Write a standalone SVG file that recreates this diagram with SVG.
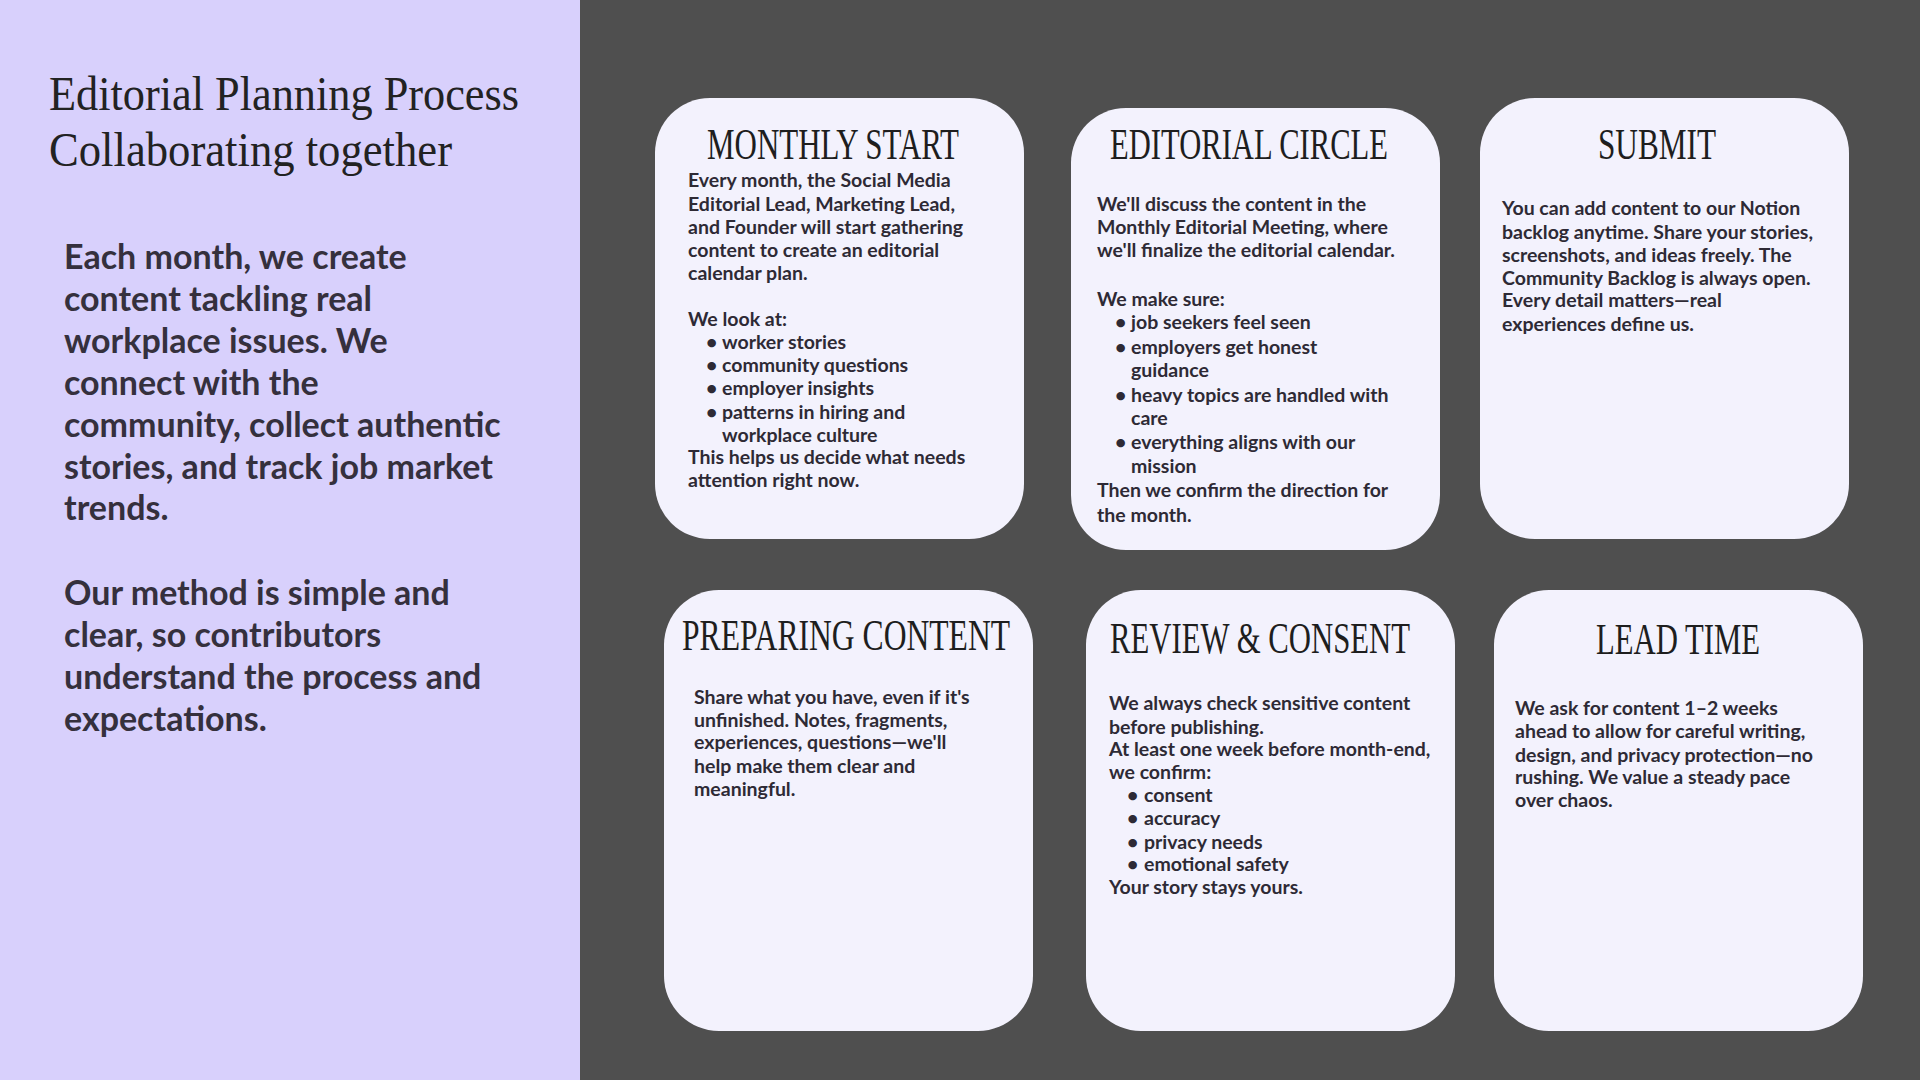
<svg xmlns="http://www.w3.org/2000/svg" width="1920" height="1080" viewBox="0 0 1920 1080">
<style>
.t{font-family:"Liberation Serif",serif;fill:#222;}
.h{font-family:"Liberation Serif",serif;font-size:45px;fill:#1e1e1e;text-anchor:middle;}
.b{font-family:Lato,"Liberation Sans",sans-serif;font-weight:700;font-size:19.5px;fill:#2e2a35;}
.l{font-family:Lato,"Liberation Sans",sans-serif;font-weight:700;font-size:34px;fill:#35303d;}
.card{fill:#f3f2fd;}
</style>
<rect x="0" y="0" width="1920" height="1080" fill="#4f4f4f"/>
<rect x="0" y="0" width="580" height="1080" fill="#d8d0fc"/>
<g id="title">
<text class="t" x="49" y="110" font-size="49" textLength="470" lengthAdjust="spacingAndGlyphs">Editorial Planning Process</text>
<text class="t" x="49" y="166" font-size="49" textLength="403" lengthAdjust="spacingAndGlyphs">Collaborating together</text>
</g>
<g id="intro">
<text class="l" x="64" y="269">Each month, we create</text>
<text class="l" x="64" y="311">content tackling real</text>
<text class="l" x="64" y="353">workplace issues. We</text>
<text class="l" x="64" y="395">connect with the</text>
<text class="l" x="64" y="437">community, collect authentic</text>
<text class="l" x="64" y="479">stories, and track job market</text>
<text class="l" x="64" y="520">trends.</text>
<text class="l" x="64" y="605">Our method is simple and</text>
<text class="l" x="64" y="647">clear, so contributors</text>
<text class="l" x="64" y="689">understand the process and</text>
<text class="l" x="64" y="731">expectations.</text>
</g>
<g id="connectors"/>
<g id="monthly-start">
<rect class="card" x="655" y="98" width="369" height="441" rx="55"/>
<text class="h" x="833" y="159" textLength="252" lengthAdjust="spacingAndGlyphs">MONTHLY START</text>
<text class="b" x="688" y="187">Every month, the Social Media</text>
<text class="b" x="688" y="211">Editorial Lead, Marketing Lead,</text>
<text class="b" x="688" y="234">and Founder will start gathering</text>
<text class="b" x="688" y="257">content to create an editorial</text>
<text class="b" x="688" y="280">calendar plan.</text>
<text class="b" x="688" y="326">We look at:</text>
<text class="b" x="706" y="349">•</text><text class="b" x="722" y="349">worker stories</text>
<text class="b" x="706" y="372">•</text><text class="b" x="722" y="372">community questions</text>
<text class="b" x="706" y="395">•</text><text class="b" x="722" y="395">employer insights</text>
<text class="b" x="706" y="419">•</text><text class="b" x="722" y="419">patterns in hiring and</text>
<text class="b" x="722" y="442">workplace culture</text>
<text class="b" x="688" y="464">This helps us decide what needs</text>
<text class="b" x="688" y="487">attention right now.</text>
</g>
<g id="editorial-circle">
<rect class="card" x="1071" y="108" width="369" height="442" rx="55"/>
<text class="h" x="1249" y="159" textLength="278" lengthAdjust="spacingAndGlyphs">EDITORIAL CIRCLE</text>
<text class="b" x="1097" y="211">We'll discuss the content in the</text>
<text class="b" x="1097" y="234">Monthly  Editorial Meeting, where</text>
<text class="b" x="1097" y="257">we'll finalize the editorial calendar.</text>
<text class="b" x="1097" y="306">We make sure:</text>
<text class="b" x="1115" y="329">•</text><text class="b" x="1131" y="329">job seekers feel seen</text>
<text class="b" x="1115" y="354">•</text><text class="b" x="1131" y="354">employers get honest</text>
<text class="b" x="1131" y="377">guidance</text>
<text class="b" x="1115" y="402">•</text><text class="b" x="1131" y="402">heavy topics are handled with</text>
<text class="b" x="1131" y="425">care</text>
<text class="b" x="1115" y="449">•</text><text class="b" x="1131" y="449">everything aligns with our</text>
<text class="b" x="1131" y="473">mission</text>
<text class="b" x="1097" y="497">Then we confirm the direction for</text>
<text class="b" x="1097" y="522">the month.</text>
</g>
<g id="submit">
<rect class="card" x="1480" y="98" width="369" height="441" rx="55"/>
<text class="h" x="1657" y="159" textLength="118" lengthAdjust="spacingAndGlyphs">SUBMIT</text>
<text class="b" x="1502" y="215">You can add content to our Notion</text>
<text class="b" x="1502" y="239">backlog anytime. Share your stories,</text>
<text class="b" x="1502" y="262">screenshots, and ideas freely. The</text>
<text class="b" x="1502" y="285">Community Backlog is always open.</text>
<text class="b" x="1502" y="307">Every detail matters—real</text>
<text class="b" x="1502" y="331">experiences define us.</text>
</g>
<g id="preparing-content">
<rect class="card" x="664" y="590" width="369" height="441" rx="55"/>
<text class="h" x="846" y="650" textLength="328" lengthAdjust="spacingAndGlyphs">PREPARING CONTENT</text>
<text class="b" x="694" y="704">Share what you have, even if it's</text>
<text class="b" x="694" y="727">unfinished. Notes, fragments,</text>
<text class="b" x="694" y="749">experiences, questions—we'll</text>
<text class="b" x="694" y="773">help make them clear and</text>
<text class="b" x="694" y="796">meaningful.</text>
</g>
<g id="review-consent">
<rect class="card" x="1086" y="590" width="369" height="441" rx="55"/>
<text class="h" x="1260" y="653" textLength="300" lengthAdjust="spacingAndGlyphs">REVIEW &amp; CONSENT</text>
<text class="b" x="1109" y="710">We always check sensitive content</text>
<text class="b" x="1109" y="734">before publishing.</text>
<text class="b" x="1109" y="756">At least one week before month-end,</text>
<text class="b" x="1109" y="779">we confirm:</text>
<text class="b" x="1127" y="802">•</text><text class="b" x="1144" y="802">consent</text>
<text class="b" x="1127" y="825">•</text><text class="b" x="1144" y="825">accuracy</text>
<text class="b" x="1127" y="849">•</text><text class="b" x="1144" y="849">privacy needs</text>
<text class="b" x="1127" y="871">•</text><text class="b" x="1144" y="871">emotional safety</text>
<text class="b" x="1109" y="894">Your story stays yours.</text>
</g>
<g id="lead-time">
<rect class="card" x="1494" y="590" width="369" height="441" rx="55"/>
<text class="h" x="1678" y="654" textLength="164" lengthAdjust="spacingAndGlyphs">LEAD TIME</text>
<text class="b" x="1515" y="715">We ask for content 1–2 weeks</text>
<text class="b" x="1515" y="738">ahead to allow for careful writing,</text>
<text class="b" x="1515" y="762">design, and privacy protection—no</text>
<text class="b" x="1515" y="784">rushing. We value a steady pace</text>
<text class="b" x="1515" y="807">over chaos.</text>
</g>
</svg>
